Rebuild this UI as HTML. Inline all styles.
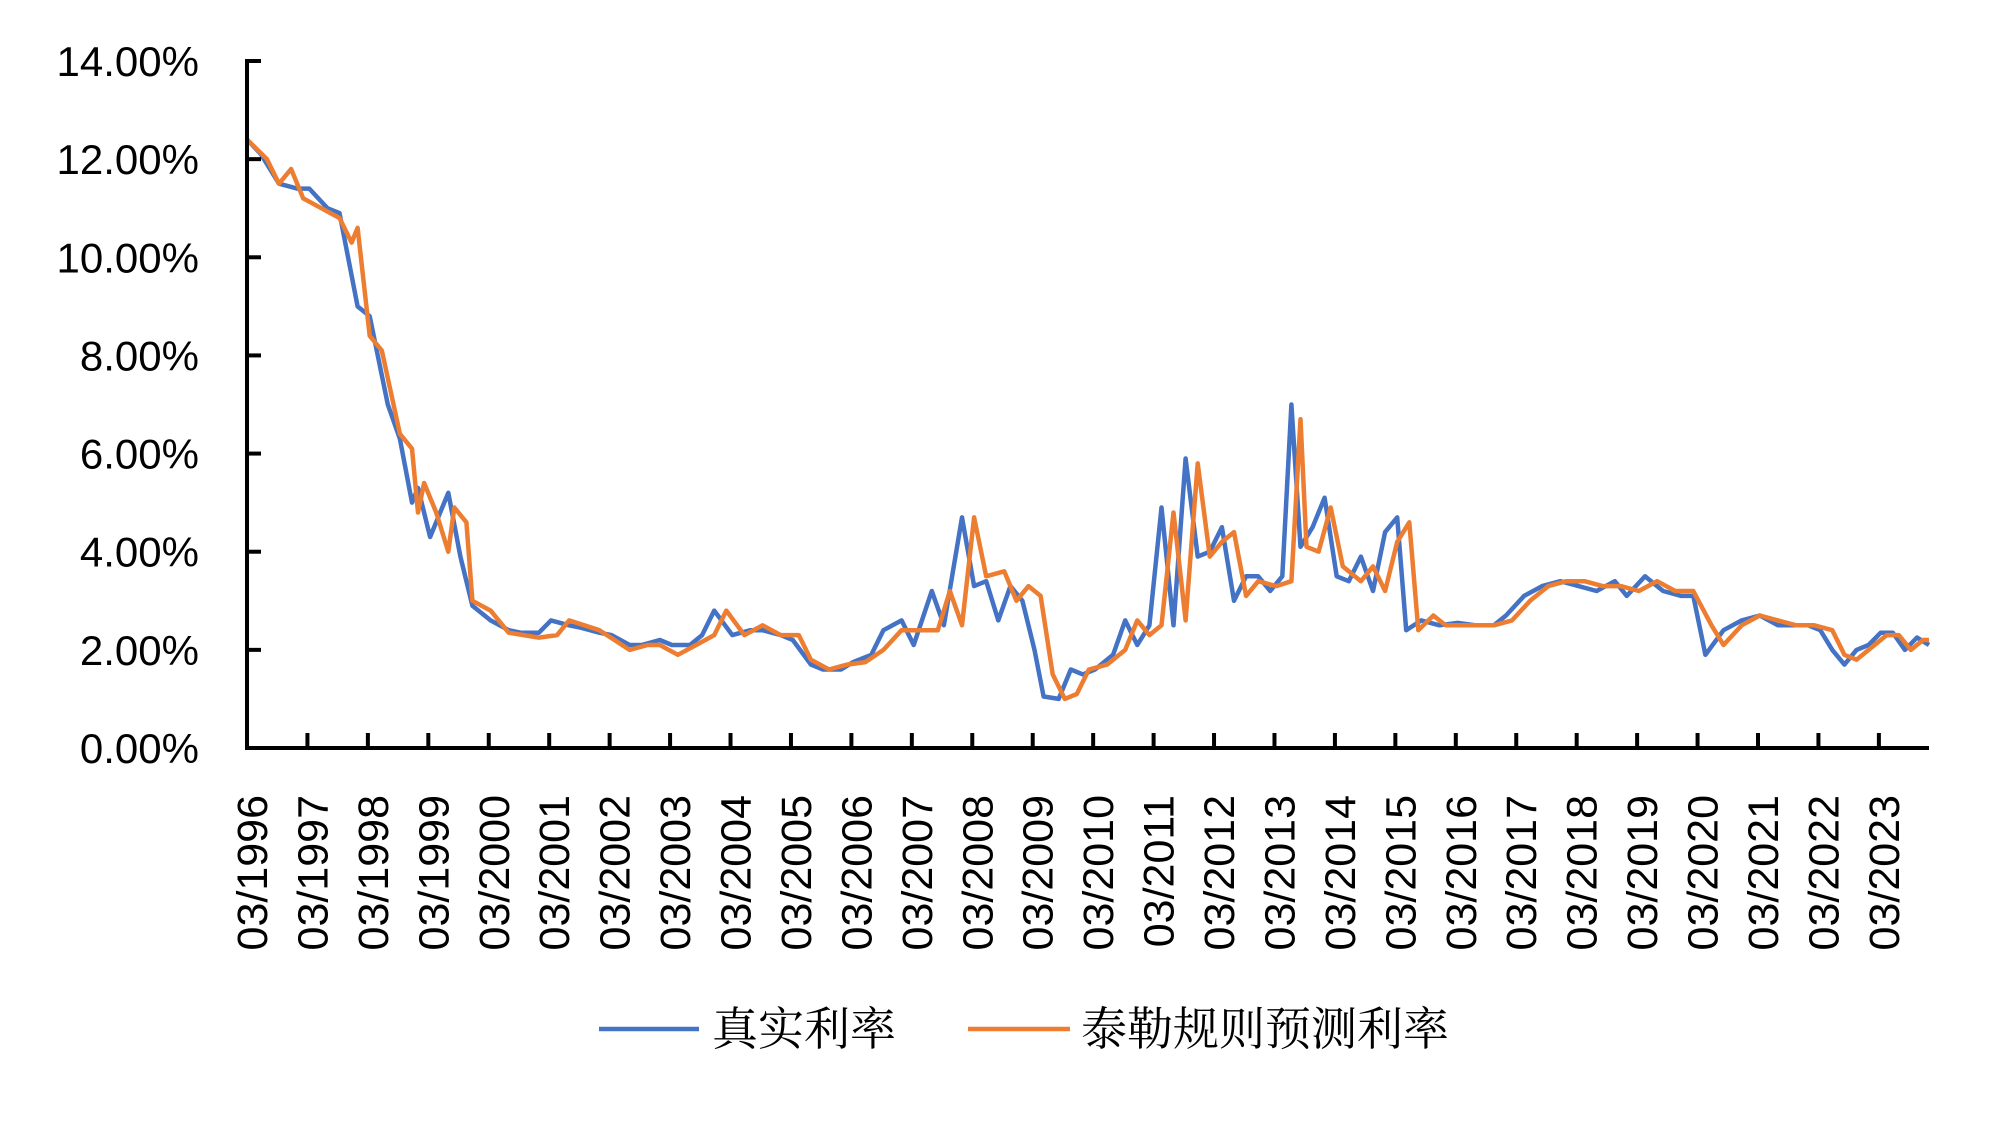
<!DOCTYPE html>
<html><head><meta charset="utf-8"><style>
body{margin:0;background:#fff;}
svg{display:block;font-family:"Liberation Sans","Noto Sans CJK SC",sans-serif;}
</style></head><body>
<svg id="chart" width="2000" height="1146" viewBox="0 0 2000 1146">
<g id="plot"></g>
<g id="axes"></g>
<g>
<line x1="599" y1="1029" x2="699" y2="1029" stroke="#4472C4" stroke-width="4.5"/>
<text x="712" y="1045" font-size="46" font-family="'Liberation Serif','Noto Serif CJK SC',serif">真实利率</text>
<line x1="968" y1="1029" x2="1070" y2="1029" stroke="#ED7D31" stroke-width="4.5"/>
<text x="1081" y="1045" font-size="46" font-family="'Liberation Serif','Noto Serif CJK SC',serif">泰勒规则预测利率</text>
</g>
</svg>
<script>
const yTicks = [0,2,4,6,8,10,12,14];
const yTickLabels = ["0.00%","2.00%","4.00%","6.00%","8.00%","10.00%","12.00%","14.00%"];
const xTickYears = [1996,1997,1998,1999,2000,2001,2002,2003,2004,2005,2006,2007,2008,2009,2010,2011,2012,2013,2014,2015,2016,2017,2018,2019,2020,2021,2022,2023];
const realDates = [1996.17,1996.4,1996.7,1997.0,1997.2,1997.5,1997.7,1998.0,1998.2,1998.5,1998.7,1998.9,1999.0,1999.2,1999.5,1999.7,1999.9,2000.2,2000.5,2000.7,2001.0,2001.2,2001.5,2001.7,2002.0,2002.2,2002.5,2002.7,2003.0,2003.2,2003.5,2003.7,2003.9,2004.2,2004.5,2004.7,2005.0,2005.2,2005.5,2005.7,2006.0,2006.2,2006.5,2006.7,2007.0,2007.2,2007.5,2007.7,2008.0,2008.2,2008.4,2008.6,2008.8,2009.0,2009.2,2009.35,2009.6,2009.8,2010.0,2010.2,2010.5,2010.7,2010.9,2011.1,2011.3,2011.5,2011.7,2011.9,2012.1,2012.3,2012.5,2012.7,2012.9,2013.1,2013.3,2013.45,2013.6,2013.8,2014.0,2014.2,2014.4,2014.6,2014.8,2015.0,2015.2,2015.35,2015.6,2015.9,2016.2,2016.5,2016.8,2017.0,2017.3,2017.6,2017.9,2018.2,2018.5,2018.8,2019.0,2019.3,2019.6,2019.9,2020.1,2020.3,2020.6,2020.9,2021.2,2021.5,2021.8,2022.0,2022.2,2022.4,2022.6,2022.8,2023.0,2023.2,2023.4,2023.6,2023.8,2024.0];
const realValues = [12.4,12.1,11.5,11.4,11.4,11.0,10.9,9.0,8.8,7.0,6.3,5.0,5.3,4.3,5.2,3.9,2.9,2.6,2.4,2.35,2.35,2.6,2.5,2.45,2.35,2.3,2.1,2.1,2.2,2.1,2.1,2.3,2.8,2.3,2.4,2.4,2.3,2.2,1.7,1.6,1.6,1.75,1.9,2.4,2.6,2.1,3.2,2.5,4.7,3.3,3.4,2.6,3.3,3.0,2.0,1.05,1.0,1.6,1.5,1.6,1.9,2.6,2.1,2.5,4.9,2.5,5.9,3.9,4.0,4.5,3.0,3.5,3.5,3.2,3.5,7.0,4.1,4.5,5.1,3.5,3.4,3.9,3.2,4.4,4.7,2.4,2.6,2.5,2.55,2.5,2.5,2.7,3.1,3.3,3.4,3.3,3.2,3.4,3.1,3.5,3.2,3.1,3.1,1.9,2.4,2.6,2.7,2.5,2.5,2.5,2.4,2.0,1.7,2.0,2.1,2.35,2.35,2.0,2.25,2.1];
const taylorDates = [1996.17,1996.5,1996.7,1996.9,1997.1,1997.4,1997.7,1997.9,1998.0,1998.2,1998.4,1998.7,1998.9,1999.0,1999.1,1999.3,1999.5,1999.6,1999.8,1999.9,2000.2,2000.5,2001.0,2001.3,2001.5,2002.0,2002.5,2002.8,2003.0,2003.3,2003.6,2003.9,2004.1,2004.4,2004.7,2005.0,2005.3,2005.5,2005.8,2006.1,2006.4,2006.7,2007.0,2007.3,2007.6,2007.8,2008.0,2008.2,2008.4,2008.7,2008.9,2009.1,2009.3,2009.5,2009.7,2009.9,2010.1,2010.4,2010.7,2010.9,2011.1,2011.3,2011.5,2011.7,2011.9,2012.1,2012.3,2012.5,2012.7,2012.9,2013.2,2013.45,2013.6,2013.7,2013.9,2014.1,2014.3,2014.6,2014.8,2015.0,2015.2,2015.4,2015.55,2015.8,2016.0,2016.5,2016.8,2017.1,2017.4,2017.7,2018.0,2018.3,2018.6,2018.9,2019.2,2019.5,2019.8,2020.1,2020.4,2020.6,2020.9,2021.2,2021.5,2021.8,2022.1,2022.4,2022.6,2022.8,2023.0,2023.3,2023.5,2023.7,2023.9,2024.0];
const taylorValues = [12.4,12.0,11.5,11.8,11.2,11.0,10.8,10.3,10.6,8.4,8.1,6.4,6.1,4.8,5.4,4.8,4.0,4.9,4.6,3.0,2.8,2.35,2.25,2.3,2.6,2.4,2.0,2.1,2.1,1.9,2.1,2.3,2.8,2.3,2.5,2.3,2.3,1.8,1.6,1.7,1.75,2.0,2.4,2.4,2.4,3.2,2.5,4.7,3.5,3.6,3.0,3.3,3.1,1.5,1.0,1.1,1.6,1.7,2.0,2.6,2.3,2.5,4.8,2.6,5.8,3.9,4.2,4.4,3.1,3.4,3.3,3.4,6.7,4.1,4.0,4.9,3.7,3.4,3.7,3.2,4.2,4.6,2.4,2.7,2.5,2.5,2.5,2.6,3.0,3.3,3.4,3.4,3.3,3.3,3.2,3.4,3.2,3.2,2.5,2.1,2.5,2.7,2.6,2.5,2.5,2.4,1.9,1.8,2.0,2.3,2.3,2.0,2.2,2.2];

const NS = "http://www.w3.org/2000/svg";
const X0 = 247, XEND = 1929, YBASE = 748, YTOP = 61;
function xScale(yr){ return X0 + (yr - 1996.17) * 60.44; }
function yScale(v){ return YBASE - v * (YBASE - YTOP) / 14; }
const plot = document.getElementById('plot');
const axes = document.getElementById('axes');
function mk(tag, attrs, parent){ const e = document.createElementNS(NS, tag); for (const k in attrs) e.setAttribute(k, attrs[k]); parent.appendChild(e); return e; }

let ya = mk('line', {x1:X0, y1:YTOP-2, x2:X0, y2:YBASE, stroke:'#000', 'stroke-width':4}, axes);


yTicks.forEach((v,i)=>{
  const y = yScale(v);
  const t = mk('line', {x1:X0, y1:y, x2:X0+14, y2:y, stroke:'#000', 'stroke-width':4}, axes);
  
  
  const l = mk('text', {x:199, y:y+15, 'font-size':42, 'text-anchor':'end'}, axes);
  l.textContent = yTickLabels[i];
  
  
});
let xa = mk('line', {x1:X0-2, y1:YBASE, x2:XEND, y2:YBASE, stroke:'#000', 'stroke-width':4}, axes);


xTickYears.forEach(yr=>{
  const x = xScale(yr + 0.17);
  if (yr > 1996) {
    const t = mk('line', {x1:x, y1:YBASE, x2:x, y2:YBASE-15, stroke:'#000', 'stroke-width':4}, axes);
    
    
  }
  const l = mk('text', {x:0, y:0, 'font-size':43, 'text-anchor':'end', transform:`translate(${x+20},795) rotate(-90)`}, axes);
  l.textContent = '03/' + yr;
  
  
});
function series(dates, vals, color, name){
  const pts = dates.map((d,i)=> xScale(d).toFixed(1)+','+yScale(vals[i]).toFixed(1)).join(' ');
  const p = mk('polyline', {points:pts, fill:'none', stroke:color, 'stroke-width':4.5, 'stroke-linejoin':'round'}, plot);
  
  
}
series(realDates, realValues, '#4472C4', 'real-rate-line');
series(taylorDates, taylorValues, '#ED7D31', 'taylor-rate-line');
</script>
</body></html>
